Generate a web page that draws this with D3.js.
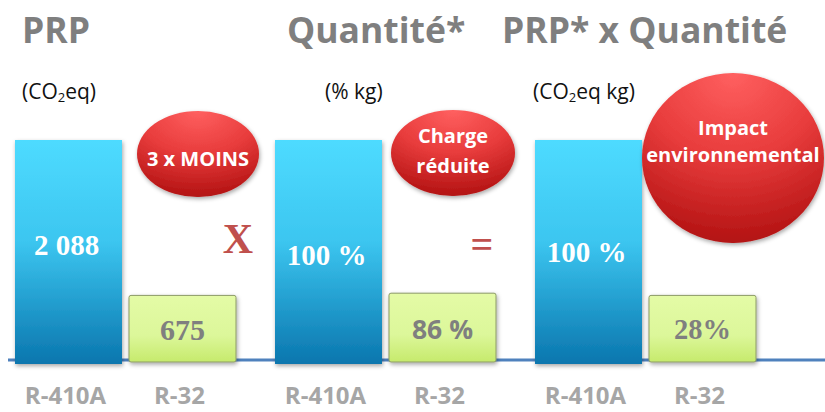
<!DOCTYPE html>
<html>
<head>
<meta charset="utf-8">
<script src="https://cdn.jsdelivr.net/npm/d3@7"></script>
<style>
  html, body { margin: 0; padding: 0; background: #fff; }
  svg { display: block; }
</style>
</head>
<body>
<svg id="chart" width="825" height="412"></svg>
<script>
// data
var panels = ["PRP", "Quantité*", "PRP* x Quantité"];
var refrigerants = ["R-410A", "R-32"];
var unitLabels = [["(CO", "2", "eq)"], ["(% kg)"], ["(CO", "2", "eq kg)"]];
// relative bar heights as drawn (R-410A = 100)
var r410aHeights = [100, 100, 100];
var r32Heights = [30, 31, 30];
var r410aLabels = ["2 088", "100 %", "100 %"];
var r32Labels = ["675", "86 %", "28%"];
var bubbleTexts = [["3 x MOINS"], ["Charge", "réduite"], ["Impact", "environnemental"]];
var operators = ["X", "="];

var svg = d3.select("#chart");
var W = 825, H = 412;

// scales
var x = d3.scaleBand().domain(panels).range([15, 795]).paddingInner(0).paddingOuter(0);
var xi = d3.scaleBand().domain(refrigerants).range([0, 221]).paddingInner(0.0614).paddingOuter(0);
var y = d3.scaleLinear().domain([0, 100]).range([362, 140]);

var defs = svg.append("defs");

var gBlue = defs.append("linearGradient").attr("id", "gBlue").attr("x1", 0).attr("y1", 0).attr("x2", 0).attr("y2", 1);
gBlue.append("stop").attr("offset", "0%").attr("stop-color", "#4edbff");
gBlue.append("stop").attr("offset", "45%").attr("stop-color", "#3cc6f0");
gBlue.append("stop").attr("offset", "100%").attr("stop-color", "#0a76ae");

var gGreen = defs.append("linearGradient").attr("id", "gGreen").attr("x1", 0).attr("y1", 0).attr("x2", 0).attr("y2", 1);
gGreen.append("stop").attr("offset", "0%").attr("stop-color", "#e4fba6");
gGreen.append("stop").attr("offset", "60%").attr("stop-color", "#dcf79a");
gGreen.append("stop").attr("offset", "100%").attr("stop-color", "#c6ea6c");

var gRed = defs.append("radialGradient").attr("id", "gRed")
  .attr("cx", "50%").attr("cy", "0%").attr("r", "110%").attr("fx", "50%").attr("fy", "0%");
gRed.append("stop").attr("offset", "0%").attr("stop-color", "#ff6060");
gRed.append("stop").attr("offset", "45%").attr("stop-color", "#e83c3c");
gRed.append("stop").attr("offset", "100%").attr("stop-color", "#a80a0a");

var shadow = defs.append("filter").attr("id", "shadow").attr("x", "-20%").attr("y", "-20%").attr("width", "140%").attr("height", "140%");
shadow.append("feDropShadow").attr("dx", 1).attr("dy", 2).attr("stdDeviation", 2).attr("flood-color", "#000").attr("flood-opacity", 0.35);

// baseline
svg.append("line")
  .attr("x1", 8).attr("x2", W).attr("y1", 360).attr("y2", 360)
  .attr("stroke", "#4f81bd").attr("stroke-width", 3);

// titles
svg.selectAll(".title").data(panels).enter().append("text")
  .attr("class", "title")
  .attr("x", function (d, i) { return [22, 287, 502][i]; })
  .attr("y", 43)
  .attr("font-family", "'Open Sans', sans-serif")
  .attr("font-weight", "bold")
  .attr("font-size", 35.5)
  .attr("fill", "#7f7f7f")
  .text(function (d) { return d; });

// units
var units = svg.selectAll(".unit").data(unitLabels).enter().append("text")
  .attr("class", "unit")
  .attr("x", function (d, i) { return [22, 325, 533][i]; })
  .attr("y", 99)
  .attr("font-family", "'Open Sans', sans-serif")
  .attr("font-size", 21)
  .attr("fill", "#111");
units.each(function (d) {
  var t = d3.select(this);
  d.forEach(function (s, k) {
    var sp = t.append("tspan").text(s);
    if (d.length === 3 && k === 1) sp.attr("font-size", 13).attr("dy", 3);
    if (d.length === 3 && k === 2) sp.attr("dy", -3);
  });
});

// bars
var groups = svg.selectAll(".panel").data(panels).enter().append("g")
  .attr("class", "panel")
  .attr("transform", function (d) { return "translate(" + x(d) + ",0)"; });

groups.append("rect")
  .attr("x", xi("R-410A"))
  .attr("width", xi.bandwidth())
  .attr("y", function (d, i) { return y(r410aHeights[i]); })
  .attr("height", function (d, i) { return y(0) + 2 - y(r410aHeights[i]); })
  .attr("fill", "url(#gBlue)")
  .attr("filter", "url(#shadow)");

groups.append("rect")
  .attr("x", xi("R-32"))
  .attr("width", xi.bandwidth())
  .attr("y", function (d, i) { return y(r32Heights[i]); })
  .attr("height", function (d, i) { return y(0) - y(r32Heights[i]); })
  .attr("rx", 2)
  .attr("fill", "url(#gGreen)")
  .attr("stroke", "#8c9a66")
  .attr("stroke-width", 1)
  .attr("filter", "url(#shadow)");

// value labels
groups.append("text")
  .attr("x", xi("R-410A") + xi.bandwidth() / 2 - 2)
  .attr("y", function (d, i) { return (y(r410aHeights[i]) + y(0)) / 2 + [-6, 4, 1][i]; })
  .attr("dominant-baseline", "central")
  .attr("text-anchor", "middle")
  .attr("font-family", "'Liberation Serif', 'DejaVu Serif', serif")
  .attr("font-weight", "bold")
  .attr("font-size", 29)
  .attr("fill", "#fff")
  .text(function (d, i) { return r410aLabels[i]; });

groups.append("text")
  .attr("x", xi("R-32") + xi.bandwidth() / 2)
  .attr("y", function (d, i) { return (y(r32Heights[i]) + y(0)) / 2 + 1; })
  .attr("dominant-baseline", "central")
  .attr("text-anchor", "middle")
  .attr("font-family", function (d, i) { return i === 1 ? "'Open Sans', sans-serif" : "'Liberation Serif', serif"; })
  .attr("font-weight", "bold")
  .attr("font-size", function (d, i) { return [30, 26.5, 28.5][i]; })
  .attr("fill", "#7f7f7f")
  .text(function (d, i) { return r32Labels[i]; });

// category labels
refrigerants.forEach(function (r) {
  groups.append("text")
    .attr("x", xi(r) + xi.bandwidth() / 2 - 3)
    .attr("y", 404)
    .attr("text-anchor", "middle")
    .attr("font-family", "'Open Sans', sans-serif")
    .attr("font-weight", "bold")
    .attr("font-size", 24)
    .attr("fill", "#a6a6a6")
    .text(r);
});

// bubbles
var bubblePos = [[198, 154, 61, 43], [453, 153, 62, 43], [733, 158, 91, 85]];
var bubbles = svg.selectAll(".bubble").data(bubbleTexts).enter().append("g").attr("class", "bubble");
bubbles.append("ellipse")
  .attr("cx", function (d, i) { return bubblePos[i][0]; })
  .attr("cy", function (d, i) { return bubblePos[i][1]; })
  .attr("rx", function (d, i) { return bubblePos[i][2]; })
  .attr("ry", function (d, i) { return bubblePos[i][3]; })
  .attr("fill", "url(#gRed)")
  .attr("filter", "url(#shadow)");
bubbles.each(function (d, i) {
  var g = d3.select(this);
  var lineH = [0, 30, 27][i];
  var startY = [158, 135, 127][i];
  d.forEach(function (s, k) {
    g.append("text")
      .attr("x", bubblePos[i][0])
      .attr("y", startY + k * lineH)
      .attr("dominant-baseline", "central")
      .attr("text-anchor", "middle")
      .attr("font-family", "'Open Sans', sans-serif")
      .attr("font-weight", "bold")
      .attr("font-size", 20)
      .attr("fill", "#fff")
      .text(s);
  });
});

// operators
svg.selectAll(".op").data(operators).enter().append("text")
  .attr("class", "op")
  .attr("x", function (d, i) { return [238, 482][i]; })
  .attr("y", function (d, i) { return [253, 258][i]; })
  .attr("text-anchor", "middle")
  .attr("font-family", "'Liberation Serif', serif")
  .attr("font-weight", "bold")
  .attr("font-size", function (d, i) { return [42, 40][i]; })
  .attr("fill", "#c0504d")
  .text(function (d) { return d; });
</script>
</body>
</html>
